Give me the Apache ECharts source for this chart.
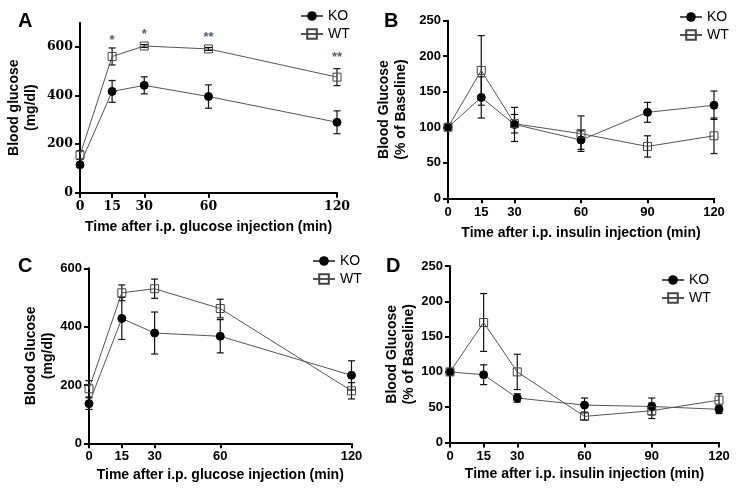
<!DOCTYPE html>
<html>
<head>
<meta charset="utf-8">
<script src="https://cdn.jsdelivr.net/npm/echarts@6/dist/echarts.min.js"></script>
<style>html,body{margin:0;padding:0;background:#fff}#c{width:738px;height:491px}</style>
</head>
<body>
<div id="c"></div>
<script>
// ---- Panel A: glucose tolerance (mg/dl) ----
const timesA = [0, 15, 30, 60, 120];
const koMeanA = [115, 417, 442, 396, 290];
const koSemA  = [10, 45, 35, 48, 47];
const wtMeanA = [155, 561, 604, 592, 476];
const wtSemA  = [18, 35, 6, 6, 35];
const starX = [15, 30, 60, 120];
const starY = [641, 665, 651, 568];
const starLabels = ['*', '*', '**', '**'];
const xTicksA = [0, 15, 30, 60, 120];
const yTicksA = [0, 200, 400, 600];

// ---- Panel B: insulin tolerance (% of baseline) ----
const timesB = [0, 15, 30, 60, 90, 120];
const koMeanB = [100, 142, 104, 82, 121, 131];
const koSemB  = [0, 29, 24, 13, 14, 20];
const wtMeanB = [100, 180, 105, 91, 73, 88];
const wtSemB  = [0, 49, 13, 25, 15, 25];
const xTicksB = [0, 15, 30, 60, 90, 120];
const yTicksB = [0, 50, 100, 150, 200, 250];

// ---- Panel C: glucose tolerance (mg/dl) ----
const timesC = [0, 15, 30, 60, 120];
const koMeanC = [136, 428, 378, 367, 233];
const koSemC  = [20, 72, 72, 57, 50];
const wtMeanC = [187, 516, 530, 462, 180];
const wtSemC  = [28, 27, 33, 32, 28];
const xTicksC = [0, 15, 30, 60, 120];
const yTicksC = [0, 200, 400, 600];

// ---- Panel D: insulin tolerance (% of baseline) ----
const timesD = [0, 15, 30, 60, 90, 120];
const koMeanD = [100, 96, 63, 53, 51, 47];
const koSemD  = [0, 14, 6, 10, 12, 6];
const wtMeanD = [100, 170, 100, 37, 45, 60];
const wtSemD  = [0, 41, 25, 5, 11, 9];
const xTicksD = [0, 15, 30, 60, 90, 120];
const yTicksD = [0, 50, 100, 150, 200, 250];

const SANS = 'Liberation Sans, Arial, sans-serif';
const SERIF = 'DejaVu Serif, serif';

function zip(xs, ys) { return xs.map((x, i) => [x, ys[i]]); }
function zip3(xs, ys, es) { return xs.map((x, i) => [x, ys[i], es[i]]); }

function errRender(params, api) {
  const x = api.value(0), m = api.value(1), e = api.value(2);
  if (!e) return null;
  const t = api.coord([x, m + e]);
  const b = api.coord([x, m - e]);
  const hw = 3.5;
  const st = { stroke: '#111', lineWidth: 1.2 };
  return { type: 'group', children: [
    { type: 'line', shape: { x1: t[0], y1: t[1], x2: b[0], y2: b[1] }, style: st },
    { type: 'line', shape: { x1: t[0] - hw, y1: t[1], x2: t[0] + hw, y2: t[1] }, style: st },
    { type: 'line', shape: { x1: b[0] - hw, y1: b[1], x2: b[0] + hw, y2: b[1] }, style: st }
  ]};
}

function axisX(idx, ticks, font, size, titleText, gap, labMargin) {
  return {
    type: 'value', gridIndex: idx, min: 0, max: 120,
    name: titleText, nameLocation: 'middle', nameGap: gap,
    nameTextStyle: { fontFamily: SANS, fontWeight: 'bold', fontSize: 14, color: '#000' },
    axisLine: { show: true, lineStyle: { color: '#000', width: 2 } },
    axisTick: { show: true, length: 5, lineStyle: { color: '#000', width: 2 }, customValues: ticks },
    axisLabel: { customValues: ticks, margin: labMargin, fontFamily: font, fontWeight: 'bold', fontSize: size, color: '#000' },
    splitLine: { show: false }
  };
}
function axisY(idx, max, ticks, font, size, titleText, gap) {
  return {
    type: 'value', gridIndex: idx, min: 0, max: max,
    name: titleText, nameLocation: 'middle', nameGap: gap, nameRotate: 90,
    nameTextStyle: { fontFamily: SANS, fontWeight: 'bold', fontSize: 14, color: '#000', lineHeight: 17 },
    axisLine: { show: true, lineStyle: { color: '#000', width: 2 } },
    axisTick: { show: true, length: 5, lineStyle: { color: '#000', width: 2 }, customValues: ticks },
    axisLabel: { customValues: ticks, margin: 7, fontFamily: font, fontWeight: 'bold', fontSize: size, color: '#000' },
    splitLine: { show: false }
  };
}

function koSeries(idx, xs, ys) {
  return { name: 'KO', type: 'line', xAxisIndex: idx, yAxisIndex: idx, data: zip(xs, ys),
    symbol: 'circle', symbolSize: 8, z: 4,
    lineStyle: { color: '#555', width: 1 },
    itemStyle: { color: '#000', borderColor: '#000' } };
}
function wtSeries(idx, xs, ys) {
  return { name: 'WT', type: 'line', xAxisIndex: idx, yAxisIndex: idx, data: zip(xs, ys),
    symbol: 'rect', symbolSize: 8, z: 4,
    lineStyle: { color: '#555', width: 1 },
    itemStyle: { color: 'rgba(255,255,255,0)', borderColor: '#444', borderWidth: 1 } };
}
function errSeries(idx, xs, ys, es) {
  return { type: 'custom', xAxisIndex: idx, yAxisIndex: idx, data: zip3(xs, ys, es),
    renderItem: errRender, z: 2, silent: true, encode: { x: 0, y: 1 } };
}
function legendAt(left, top) {
  return { data: ['KO', 'WT'], left: left, top: top, orient: 'vertical',
    itemWidth: 22, itemHeight: 12, itemGap: 4,
    textStyle: { fontFamily: SANS, fontSize: 14, color: '#000' } };
}

const chart = echarts.init(document.getElementById('c'), null, { renderer: 'canvas' });
chart.setOption({
  backgroundColor: '#fff',
  animation: false,
  title: [
    { text: 'A', left: 13, top: 6, textStyle: { fontFamily: SANS, fontWeight: 'bold', fontSize: 20, color: '#000' } },
    { text: 'B', left: 379, top: 6, textStyle: { fontFamily: SANS, fontWeight: 'bold', fontSize: 20, color: '#000' } },
    { text: 'C', left: 13, top: 251, textStyle: { fontFamily: SANS, fontWeight: 'bold', fontSize: 20, color: '#000' } },
    { text: 'D', left: 381, top: 251, textStyle: { fontFamily: SANS, fontWeight: 'bold', fontSize: 20, color: '#000' } }
  ],
  legend: [ legendAt(295, 4), legendAt(674, 5), legendAt(307, 249), legendAt(656, 268) ],
  grid: [
    { left: 80, top: 22.7, width: 257, height: 170 },
    { left: 448, top: 20.7, width: 266, height: 177.6 },
    { left: 89, top: 268.3, width: 262.5, height: 175 },
    { left: 450, top: 266, width: 269, height: 176.5 }
  ],
  xAxis: [
    axisX(0, xTicksA, SERIF, 12.5, 'Time after i.p. glucose injection (min)', 27, 8),
    axisX(1, xTicksB, SANS, 13, 'Time after i.p. insulin injection (min)', 28, 8),
    axisX(2, xTicksC, SANS, 13, 'Time after i.p. glucose injection (min)', 25, 7),
    axisX(3, xTicksD, SANS, 13, 'Time after i.p. insulin injection (min)', 25, 7)
  ],
  yAxis: [
    axisY(0, 700, yTicksA, SERIF, 12.5, 'Blood glucose\n(mg/dl)', 40),
    axisY(1, 250, yTicksB, SANS, 13, 'Blood Glucose\n(% of Baseline)', 38),
    axisY(2, 600, yTicksC, SANS, 13, 'Blood Glucose\n(mg/dl)', 31),
    axisY(3, 250, yTicksD, SANS, 13, 'Blood Glucose\n(% of Baseline)', 32)
  ],
  series: [
    errSeries(0, timesA, koMeanA, koSemA), errSeries(0, timesA, wtMeanA, wtSemA),
    koSeries(0, timesA, koMeanA), wtSeries(0, timesA, wtMeanA),
    { type: 'scatter', xAxisIndex: 0, yAxisIndex: 0, symbolSize: 1, z: 5, silent: true,
      itemStyle: { color: 'rgba(0,0,0,0)' },
      data: starX.map((x, i) => ({ value: [x, starY[i]], name: starLabels[i] })),
      label: { show: true, position: 'inside', offset: [0, 3], formatter: p => p.name,
        fontFamily: SANS, fontSize: 13, fontWeight: 'bold', color: '#2b2f4a' } },
    errSeries(1, timesB, koMeanB, koSemB), errSeries(1, timesB, wtMeanB, wtSemB),
    koSeries(1, timesB, koMeanB), wtSeries(1, timesB, wtMeanB),
    errSeries(2, timesC, koMeanC, koSemC), errSeries(2, timesC, wtMeanC, wtSemC),
    koSeries(2, timesC, koMeanC), wtSeries(2, timesC, wtMeanC),
    errSeries(3, timesD, koMeanD, koSemD), errSeries(3, timesD, wtMeanD, wtSemD),
    koSeries(3, timesD, koMeanD), wtSeries(3, timesD, wtMeanD)
  ]
});
</script>
</body>
</html>
